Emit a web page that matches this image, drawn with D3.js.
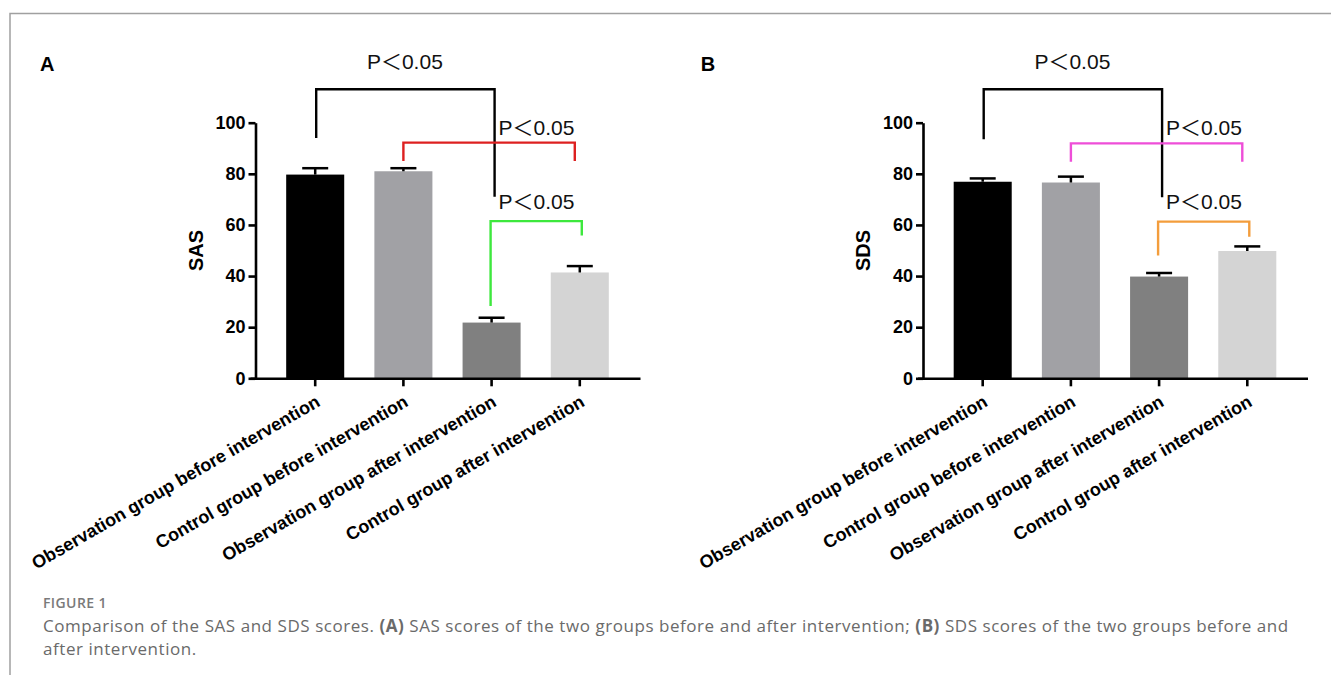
<!DOCTYPE html>
<html>
<head>
<meta charset="utf-8">
<script src="https://cdn.jsdelivr.net/npm/d3@7"></script>
<style>
  body { margin: 0; background: #fff; }
  svg { display: block; }
  .chart text { font-family: "Liberation Sans", Arial, "Noto Sans CJK SC", sans-serif; }
  .caption text { font-family: "Open Sans", sans-serif; }
</style>
</head>
<body>
<div id="figure"></div>
<script>
// data
const categories = [
  "Observation group before intervention",
  "Control group before intervention",
  "Observation group after intervention",
  "Control group after intervention"
];
const sasMeans = [79.7, 81.0, 21.8, 41.4];
const sasErrors = [2.5, 1.2, 1.9, 2.5];
const sdsMeans = [76.9, 76.6, 39.8, 49.8];
const sdsErrors = [1.3, 2.3, 1.4, 1.8];
const yTicks = [0, 20, 40, 60, 80, 100];

// brackets: [fromCategory, toCategory, topValue, leftLegEnd, rightLegEnd, labelValue]
const sasBrackets = [
  [0, 2, 113.1, 94.0, 71.0, 121.0],
  [1, 3, 92.2, 85.0, 85.0, 95.2],
  [2, 3, 61.5, 28.3, 55.9, 66.3]
];
const sdsBrackets = [
  [0, 2, 113.1, 93.5, 70.8, 121.0],
  [1, 3, 91.9, 84.7, 84.7, 95.2],
  [2, 3, 61.3, 48.0, 55.4, 66.3]
];
const pLabel = "P\uFF1C0.05";

const barColors = ["#000000", "#a1a1a5", "#808080", "#d4d4d4"];
const sasBracketColors = ["#000000", "#dd2020", "#3de83d"];
const sdsBracketColors = ["#000000", "#ee4ed8", "#f39d3c"];

const width = 1331;
const height = 675;

const svg = d3.select("#figure").append("svg")
  .attr("width", width)
  .attr("height", height);

// frame of the figure box
svg.append("path")
  .attr("d", `M10,${height} V13.5 H${width}`)
  .attr("fill", "none")
  .attr("stroke", "#a0a0a0")
  .attr("stroke-width", 1.5);

const y = d3.scaleLinear().domain([0, 100]).range([378.3, 122.7]);

const x = d3.scaleBand()
  .domain(categories)
  .range([-5.5, 384.5])
  .paddingInner(0.342)
  .paddingOuter(0.382)
  .align(0.537);

// small horizontal nudges of bracket legs, px
const legNudge = [[1, 3], [0, -5], [-1, 2]];

const drawPanel = (left, letter, yLabel, means, errors, brackets, bracketColors) => {
  const g = svg.append("g")
    .attr("class", "chart")
    .attr("transform", `translate(${left},0)`);

  g.append("text")
    .attr("x", letter.x)
    .attr("y", 71)
    .attr("font-size", 20)
    .attr("font-weight", "bold")
    .text(letter.text);

  // bars
  g.selectAll("rect.bar")
    .data(means)
    .enter()
    .append("rect")
    .attr("class", "bar")
    .attr("x", (d, i) => x(categories[i]))
    .attr("y", (d) => y(d))
    .attr("width", x.bandwidth())
    .attr("height", (d) => y(0) - y(d))
    .attr("fill", (d, i) => barColors[i]);

  // error bars (upper half only)
  const cx = (i) => x(categories[i]) + x.bandwidth() / 2;
  const err = g.selectAll("g.err")
    .data(means)
    .enter()
    .append("g")
    .attr("class", "err")
    .attr("stroke", "#000")
    .attr("stroke-width", 2.5);
  err.append("line")
    .attr("x1", (d, i) => cx(i))
    .attr("x2", (d, i) => cx(i))
    .attr("y1", (d) => y(d))
    .attr("y2", (d, i) => y(d + errors[i]));
  err.append("line")
    .attr("x1", (d, i) => cx(i) - 13)
    .attr("x2", (d, i) => cx(i) + 13)
    .attr("y1", (d, i) => y(d + errors[i]))
    .attr("y2", (d, i) => y(d + errors[i]));

  // axes
  const yAxis = d3.axisLeft(y)
    .tickValues(yTicks)
    .tickSize(7)
    .tickSizeOuter(0)
    .tickPadding(3);
  const ya = g.append("g").call(yAxis);
  ya.selectAll("path, line").attr("stroke", "#000").attr("stroke-width", 2.6);
  ya.selectAll("text")
    .attr("font-size", 18)
    .attr("font-weight", "bold")
    .attr("fill", "#000")
    .attr("font-family", "'Liberation Sans', Arial, sans-serif");

  const xAxis = d3.axisBottom(x).tickSize(8).tickSizeOuter(0);
  const xa = g.append("g")
    .attr("transform", `translate(0,${y(0)})`)
    .call(xAxis);
  xa.selectAll("path, line").attr("stroke", "#000").attr("stroke-width", 2.6);
  xa.selectAll("text")
    .attr("font-size", 18)
    .attr("font-weight", "bold")
    .attr("fill", "#000")
    .attr("font-family", "'Liberation Sans', Arial, sans-serif")
    .attr("text-anchor", "end")
    .attr("y", 0)
    .attr("dy", 0)
    .attr("transform", "translate(6,27) rotate(-30)");

  g.append("text")
    .attr("transform", `translate(-53,${(y(0) + y(100)) / 2}) rotate(-90)`)
    .attr("text-anchor", "middle")
    .attr("font-size", 20)
    .attr("font-weight", "bold")
    .text(yLabel);

  // significance brackets
  brackets.forEach((b, k) => {
    const [from, to, top, endL, endR] = b;
    const x1 = cx(from) + legNudge[k][0];
    const x2 = cx(to) + legNudge[k][1];
    g.append("path")
      .attr("d", `M${x1},${y(endL)} V${y(top)} H${x2} V${y(endR)}`)
      .attr("fill", "none")
      .attr("stroke", bracketColors[k])
      .attr("stroke-width", 2.4);
  });

  const blackRight = cx(brackets[0][1]) + legNudge[0][1];
  brackets.forEach((b, k) => {
    const t = g.append("text")
      .attr("y", y(b[5]))
      .attr("font-size", 21)
      .attr("fill", "#111")
      .text(pLabel);
    if (k === 0) {
      t.attr("x", (cx(b[0]) + blackRight) / 2).attr("text-anchor", "middle");
    } else {
      t.attr("x", blackRight + 4);
    }
  });
};

drawPanel(255.5, { x: -215.5, text: "A" }, "SAS", sasMeans, sasErrors, sasBrackets, sasBracketColors);
drawPanel(923, { x: -222.3, text: "B" }, "SDS", sdsMeans, sdsErrors, sdsBrackets, sdsBracketColors);

// caption
const cap = svg.append("g").attr("class", "caption");
cap.append("text")
  .attr("x", 43)
  .attr("y", 608)
  .attr("font-size", 14)
  .attr("font-weight", 600)
  .attr("letter-spacing", 0.4)
  .attr("fill", "#7a7a7a")
  .text("FIGURE 1");

const line1 = cap.append("text")
  .attr("x", 43)
  .attr("y", 632)
  .attr("font-size", 17)
  .attr("letter-spacing", 0.55)
  .attr("fill", "#6a6a6a");
line1.append("tspan").text("Comparison of the SAS and SDS scores. ");
line1.append("tspan").attr("font-weight", 700).text("(A)");
line1.append("tspan").text(" SAS scores of the two groups before and after intervention; ");
line1.append("tspan").attr("font-weight", 700).text("(B)");
line1.append("tspan").text(" SDS scores of the two groups before and");

cap.append("text")
  .attr("x", 43)
  .attr("y", 655)
  .attr("font-size", 17)
  .attr("letter-spacing", 0.55)
  .attr("fill", "#6a6a6a")
  .text("after intervention.");
</script>
</body>
</html>
